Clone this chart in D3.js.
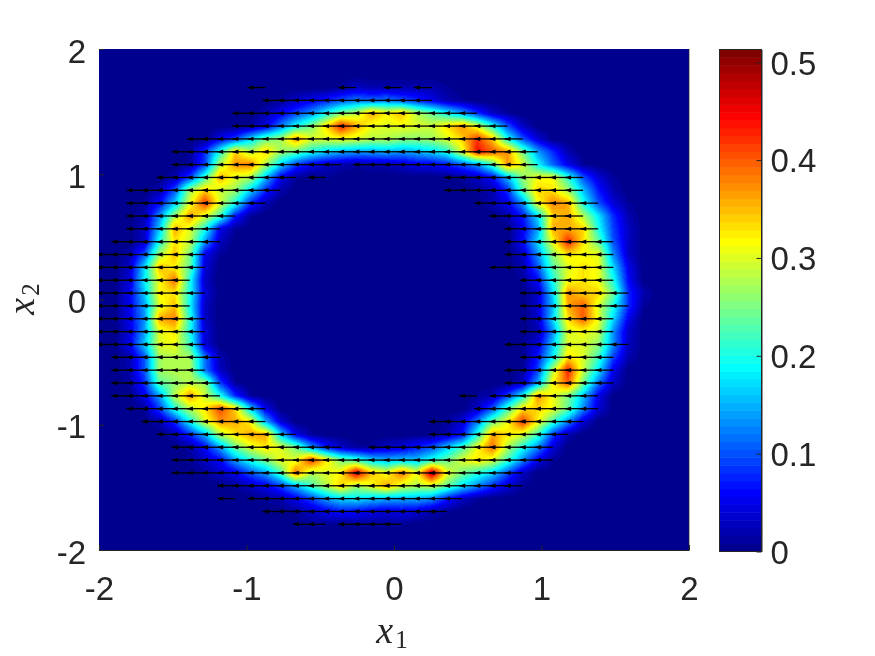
<!DOCTYPE html>
<html lang="en">
<head>
  <meta charset="UTF-8">
  <title>density ring</title>
  <script src="https://d3js.org/d3.v7.min.js"></script>
  <style>
    body { margin: 0; background: #fff; }
    #chart { position: relative; width: 875px; height: 656px; overflow: hidden; }
    canvas { position: absolute; }
    svg { position: absolute; left: 0; top: 0; }
    text { font-family: "Liberation Sans", sans-serif; fill: #262626; }
    .tick text { font-size: 33px; }
    .axis path, .axis line { stroke: #262626; stroke-width: 1px; }
    .math { font-family: "Liberation Serif", serif; font-size: 38px; }
    .arrow { fill: none; stroke: #000; stroke-width: 1.3px; }
    .head { fill: #000; }
  </style>
</head>
<body>
  <div id="chart"></div>

  <script>
    const gridSize = 40;
    const axisTicks = [-2, -1, 0, 1, 2];
    const colorTicks = [0, 0.1, 0.2, 0.3, 0.4, 0.5];
    const colorMax = 0.513;
    const arrowDx = -0.122;

    // density, in hundredths: [row from top, first column, values]
    const densitySegments = [
      [3, 16, [1,3,2,2,2,2,2,1]],
      [4, 12, [1,3,5,7,10,12,11,12,10,8,5,2,1]],
      [5, 11, [2,5,9,13,19,25,28,36,32,35,28,24,19,14,8,3,1]],
      [6, 10, [1,4,12,19,25,33,43,36,31,30,31,30,29,33,37,30,20,10,3]],
      [7, 8, [5,9,17,24,27,37,30,30,31,30,28,28,26,26,27,30,34,42,35,20,10,4]],
      [8, 6, [1,8,20,34,28,34,27,24,20,17,15,14,14,15,14,15,17,20,30,44,40,37,25,14,8,2]],
      [9, 6, [1,9,28,37,38,28,17,9,5,3,2,1,2,2,3,5,5,7,10,13,22,37,30,19,11,5,1]],
      [10, 5, [2,9,22,36,30,28,16,5,1,0,1]], [10, 24, [1,3,6,15,26,31,31,21,10,4,1]],
      [11, 4, [2,10,27,34,29,27,17,8,2]], [11, 25, [1,2,8,23,34,33,27,16,7,2]],
      [12, 3, [1,6,16,30,42,30,20,8,2]], [12, 26, [2,5,13,31,38,36,20,10,4,1]],
      [13, 3, [2,13,27,37,30,22,7,1]], [13, 27, [2,7,17,34,36,28,18,8,2]],
      [14, 3, [3,16,36,30,20,5,1]], [14, 28, [5,14,36,36,34,20,9,3]],
      [15, 3, [3,20,33,29,14,3]], [15, 28, [6,17,31,43,33,24,10,3]],
      [16, 2, [2,10,27,35,25,5,1]], [16, 28, [3,13,26,33,31,31,13,3]],
      [17, 2, [3,17,35,32,24,4]], [17, 28, [2,10,23,30,33,31,17,5]],
      [18, 2, [4,18,31,39,20,3]], [18, 28, [1,6,20,31,33,31,20,6]],
      [19, 2, [5,16,32,33,20,4]], [19, 29, [3,17,37,34,34,24,8,2]],
      [20, 2, [5,14,30,35,19,3]], [20, 29, [4,15,36,40,30,20,8,1]],
      [21, 2, [5,13,36,38,21,3]], [21, 29, [3,17,33,40,31,17,5]],
      [22, 2, [4,14,30,33,20,4]], [22, 29, [2,13,30,31,29,13,3]],
      [23, 2, [5,16,30,31,22,4]], [23, 28, [1,4,16,30,30,26,13,3]],
      [24, 2, [2,10,27,28,27,12,2]], [24, 29, [7,18,33,30,22,9,2]],
      [25, 2, [2,10,27,28,28,12,3]], [25, 28, [1,9,28,43,29,18,5]],
      [26, 2, [1,8,23,26,28,27,9,1]], [26, 28, [3,14,32,40,25,12,3]],
      [27, 3, [5,14,28,37,29,20,8,1]], [27, 25, [1,2,9,19,37,31,25,16,5]],
      [28, 3, [1,9,20,28,33,41,34,17,5]], [28, 25, [3,10,22,33,34,31,24,13,4]],
      [29, 4, [2,8,19,30,37,36,32,15,4]], [29, 23, [1,4,12,24,31,42,32,22,13,4]],
      [30, 5, [2,8,15,28,33,36,36,17,5,1]], [30, 23, [2,6,20,36,33,30,22,9,2]],
      [31, 6, [1,6,14,24,30,33,30,25,14,7,3,1,1,3,4,7,10,16,22,31,39,28,20,13,4]],
      [32, 6, [1,3,6,14,20,25,31,30,42,33,25,22,17,15,16,16,20,24,30,33,30,22,13,5,1]],
      [33, 7, [1,3,5,10,14,22,39,28,30,32,46,35,31,39,31,48,31,25,21,17,10,3]],
      [34, 9, [1,3,5,9,15,22,28,34,27,31,36,30,28,29,24,18,13,8,4,1]],
      [35, 11, [1,2,5,9,14,17,18,16,15,15,15,13,7,3,1]],
      [36, 13, [1,3,5,7,6,5,4,5,4,2,1]],
      [37, 14, [1,1,0,1,1,1,1]]
    ];

    // grid points that carry an arrow: [row from top, first column, last column]
    const arrowSpans = [
      [3,11,11],[3,17,17],[3,20,20],[3,22,22],
      [4,12,22],[5,10,25],[6,10,27],[7,7,28],[8,6,29],
      [9,6,16],[9,18,29],
      [10,5,13],[10,15,15],[10,24,32],
      [11,3,12],[11,24,32],
      [12,3,11],[12,26,33],
      [13,3,9],[13,27,32],
      [14,3,8],[14,28,33],
      [15,2,8],[15,28,34],
      [16,1,7],[16,28,34],
      [17,1,7],[17,27,34],
      [18,1,6],[18,29,34],
      [19,1,7],[19,29,35],
      [20,1,6],[20,29,35],
      [21,1,7],[21,29,34],
      [22,1,7],[22,29,34],
      [23,1,7],[23,28,35],
      [24,2,8],[24,29,34],
      [25,2,7],[25,28,34],
      [26,2,8],[26,28,34],
      [27,2,8],[27,25,25],[27,27,33],
      [28,3,11],[28,26,33],
      [29,4,11],[29,23,32],
      [30,5,13],[30,23,31],
      [31,6,16],[31,19,30],
      [32,6,30],[33,6,28],[34,9,28],
      [35,9,9],[35,11,24],
      [36,12,23],
      [37,14,15],[37,17,20]
    ];

    const plot = { left: 99, right: 689, top: 49, bottom: 550 };
    const bar = { left: 719.5, right: 761.5, top: 49.5, bottom: 551.5 };

    const x = d3.scaleLinear().domain([-2, 2]).range([plot.left, plot.right]);
    const y = d3.scaleLinear().domain([-2, 2]).range([plot.bottom, plot.top]);
    const gridX = d3.scaleLinear().domain([0, gridSize - 1]).range([-2, 2]);
    const gridY = d3.scaleLinear().domain([0, gridSize - 1]).range([2, -2]);

    // jet with 64 levels
    const jetAt = d3.scaleLinear()
      .domain([0, 7, 23, 39, 55, 63])
      .range(["#00008f", "#0000ff", "#00ffff", "#ffff00", "#ff0000", "#800000"]);
    const jet = d3.range(64).map(i => d3.rgb(jetAt(i)).formatHex());
    const color = d3.scaleQuantize().domain([0, colorMax]).range(jet);

    const density = d3.range(gridSize).map(() => new Array(gridSize).fill(0));
    densitySegments.forEach(([row, start, values]) => {
      values.forEach((v, k) => { density[row][start + k] = v / 100; });
    });

    const chart = d3.select("#chart");

    // heatmap, bilinear between the grid points like shading interp
    const plotW = plot.right - plot.left, plotH = plot.bottom - plot.top;
    const canvas = chart.append("canvas")
      .attr("width", plotW).attr("height", plotH)
      .style("left", plot.left + "px").style("top", plot.top + "px");
    const ctx = canvas.node().getContext("2d");
    const image = ctx.createImageData(plotW, plotH);
    for (let py = 0; py < plotH; py++) {
      const gy = gridY.invert(y.invert(py + plot.top + 0.5));
      const r0 = Math.min(Math.floor(gy), gridSize - 2), ty = gy - r0;
      for (let px = 0; px < plotW; px++) {
        const gx = gridX.invert(x.invert(px + plot.left + 0.5));
        const c0 = Math.min(Math.floor(gx), gridSize - 2), tx = gx - c0;
        const v = (density[r0][c0] * (1 - tx) + density[r0][c0 + 1] * tx) * (1 - ty)
                + (density[r0 + 1][c0] * (1 - tx) + density[r0 + 1][c0 + 1] * tx) * ty;
        const rgb = d3.rgb(color(v));
        const k = (py * plotW + px) * 4;
        image.data[k] = rgb.r;
        image.data[k + 1] = rgb.g;
        image.data[k + 2] = rgb.b;
        image.data[k + 3] = 255;
      }
    }
    ctx.putImageData(image, 0, 0);

    const svg = chart.append("svg").attr("width", 875).attr("height", 656);

    svg.append("clipPath").attr("id", "plot-clip").append("rect")
      .attr("x", plot.left).attr("y", plot.top)
      .attr("width", plotW).attr("height", plotH);

    // quiver
    const arrows = arrowSpans.flatMap(([row, from, to]) =>
      d3.range(from, to + 1).map(col => ({ gx: gridX(col), gy: gridY(row) })));

    const quiver = svg.append("g").attr("clip-path", "url(#plot-clip)");
    quiver.selectAll(".arrow").data(arrows).enter().append("line")
      .attr("class", "arrow")
      .attr("x1", d => x(d.gx))
      .attr("y1", d => y(d.gy))
      .attr("x2", d => x(d.gx + arrowDx))
      .attr("y2", d => y(d.gy));
    quiver.selectAll(".head").data(arrows).enter().append("path")
      .attr("class", "head")
      .attr("d", d => {
        const tip = x(d.gx + arrowDx), cy = y(d.gy);
        return `M${tip},${cy}L${tip + 6},${cy - 2.2}L${tip + 6},${cy + 2.2}Z`;
      });

    // axes, only bottom and right edges show a line
    const xAxis = d3.axisBottom(x).tickValues(axisTicks).tickFormat(String)
      .tickSizeInner(-5).tickSizeOuter(0).tickPadding(27);
    const yAxis = d3.axisLeft(y).tickValues(axisTicks).tickFormat(String)
      .tickSizeInner(-5).tickSizeOuter(0).tickPadding(13);
    svg.append("g").attr("class", "axis").attr("transform", `translate(0,${plot.bottom})`).call(xAxis);
    const yGroup = svg.append("g").attr("class", "axis").attr("transform", `translate(${plot.left},0)`).call(yAxis);
    yGroup.select(".domain").remove();
    yGroup.selectAll(".tick text").attr("dy", "0.4em");
    svg.append("line")
      .attr("x1", plot.right).attr("x2", plot.right)
      .attr("y1", plot.top).attr("y2", plot.bottom)
      .attr("stroke", "#262626").attr("stroke-opacity", 0.7);

    // colorbar
    const cScale = d3.scaleLinear().domain([0, colorMax]).range([bar.bottom, bar.top]);
    const levels = d3.scaleBand().domain(d3.range(64)).range([bar.bottom, bar.top]);
    svg.append("g").selectAll("rect").data(jet).enter().append("rect")
      .attr("x", bar.left)
      .attr("y", (d, i) => levels(i))
      .attr("width", bar.right - bar.left)
      .attr("height", levels.bandwidth() + 0.5)
      .attr("fill", d => d);
    const cAxis = d3.axisRight(cScale).tickValues(colorTicks).tickFormat(String)
      .tickSizeInner(-5).tickSizeOuter(0).tickPadding(9);
    const cGroup = svg.append("g").attr("class", "axis").attr("transform", `translate(${bar.right},0)`).call(cAxis);
    cGroup.selectAll(".tick text").attr("dy", "0.36em");
    svg.append("rect")
      .attr("x", bar.left).attr("y", bar.top)
      .attr("width", bar.right - bar.left).attr("height", bar.bottom - bar.top)
      .attr("fill", "none").attr("stroke", "#262626").attr("stroke-width", 1);

    // axis labels
    function mathLabel(sel, sub) {
      sel.attr("class", "math").attr("text-anchor", "middle");
      sel.append("tspan").attr("font-style", "italic").text("x");
      sel.append("tspan").attr("dx", 2).attr("dy", 5).attr("font-size", 25).text(sub);
    }
    svg.append("text").attr("x", 392).attr("y", 643).call(mathLabel, "1");
    svg.append("text").attr("transform", "translate(34,299) rotate(-90)").call(mathLabel, "2");
  </script>
</body>
</html>
